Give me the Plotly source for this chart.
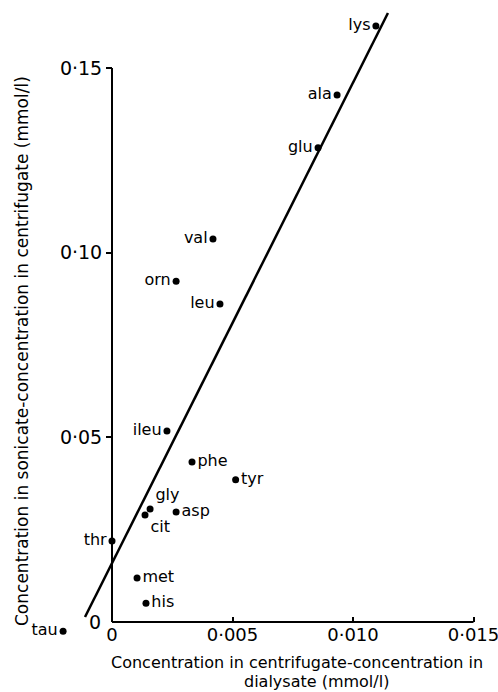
import plotly.graph_objects as go

# ---- data ----
amino = ["lys", "ala", "glu", "val", "orn", "leu", "ileu", "phe", "tyr",
         "gly", "cit", "asp", "thr", "met", "his", "tau"]
x_dialysate = [0.01095, 0.00934, 0.00855, 0.00419, 0.00266, 0.00448, 0.00228, 0.00332, 0.00513,
               0.00158, 0.00137, 0.00266, 0.0, 0.00104, 0.00141, -0.00203]
y_sonicate = [0.1614, 0.1427, 0.1284, 0.1037, 0.0923, 0.0861, 0.0517, 0.0433, 0.0385,
              0.0306, 0.0290, 0.0298, 0.0219, 0.0119, 0.0051, -0.0025]
label_pos = ["middle left", "middle left", "middle left", "middle left", "middle left",
             "middle left", "middle left", "middle right", "middle right", "top right",
             "bottom right", "middle right", "middle left", "middle right", "middle right",
             "middle left"]

fit_x = [-0.00112, 0.01145]
fit_y = [0.00135, 0.1649]

x_ticks = [0, 0.005, 0.010, 0.015]
x_ticktext = ["0", "0·005", "0·010", "0·015"]
y_ticks = [0.05, 0.10, 0.15]
y_ticktext = ["0·05", "0·10", "0·15"]

x_title_1 = "Concentration in centrifugate-concentration in"
x_title_2 = "dialysate (mmol/l)"
y_title = "Concentration in sonicate-concentration in centrifugate (mmol/l)"

FONT = "DejaVu Sans"
W, H = 498, 692

fig = go.Figure()
fig.add_trace(go.Scatter(x=fit_x, y=fit_y, mode="lines",
                         line=dict(color="black", width=2.5), hoverinfo="skip"))
fig.add_trace(go.Scatter(x=x_dialysate, y=y_sonicate, mode="markers+text",
                         text=amino, textposition=label_pos,
                         textfont=dict(family=FONT, size=16, color="black"),
                         marker=dict(color="black", size=7), cliponaxis=False))

# axis lines spanning only the labelled ranges
fig.add_shape(type="line", x0=0, x1=0, y0=0, y1=max(y_ticks),
              line=dict(color="black", width=2))
fig.add_shape(type="line", x0=0, x1=max(x_ticks), y0=0, y1=0,
              line=dict(color="black", width=2))

xr = [-112 / 24100, 386 / 24100]
yr = [(622 - 692) / 3693, 622 / 3693]

fig.update_layout(
    width=W, height=H,
    margin=dict(l=0, r=0, t=0, b=0),
    paper_bgcolor="white", plot_bgcolor="white",
    showlegend=False,
    xaxis=dict(range=xr, domain=[0, 1], anchor="free", position=70 / H,
               showgrid=False, zeroline=False, showline=False,
               tickvals=x_ticks, ticktext=x_ticktext, ticks="inside",
               ticklen=5, tickwidth=2, tickcolor="black",
               tickfont=dict(family=FONT, size=18, color="black"),
               ticklabeloverflow="allow", automargin=False),
    yaxis=dict(range=yr, domain=[0, 1], anchor="free", position=112 / W,
               showgrid=False, zeroline=False, showline=False,
               tickvals=y_ticks, ticktext=y_ticktext, ticks="outside",
               ticklen=6, tickwidth=2, tickcolor="black",
               tickfont=dict(family=FONT, size=19, color="black"),
               ticklabeloverflow="allow", automargin=False),
    annotations=[
        dict(text="0", x=0, y=0, xref="x", yref="y", xanchor="right", yanchor="middle",
             xshift=-9, showarrow=False, font=dict(family=FONT, size=19, color="black")),
        dict(text=x_title_1, x=297 / W, y=(692 - 662) / H, xref="paper", yref="paper",
             xanchor="center", yanchor="middle", showarrow=False,
             font=dict(family=FONT, size=16, color="black")),
        dict(text=x_title_2, x=316 / W, y=(692 - 681) / H, xref="paper", yref="paper",
             xanchor="center", yanchor="middle", showarrow=False,
             font=dict(family=FONT, size=16, color="black")),
        dict(text=y_title, x=22 / W, y=(692 - 351) / H, xref="paper", yref="paper",
             xanchor="center", yanchor="middle", textangle=-90, showarrow=False,
             font=dict(family=FONT, size=17, color="black")),
    ],
)

fig.write_html("out.html", config={"displayModeBar": False},
               post_script="document.body.style.margin='0';document.body.style.overflow='hidden';")
